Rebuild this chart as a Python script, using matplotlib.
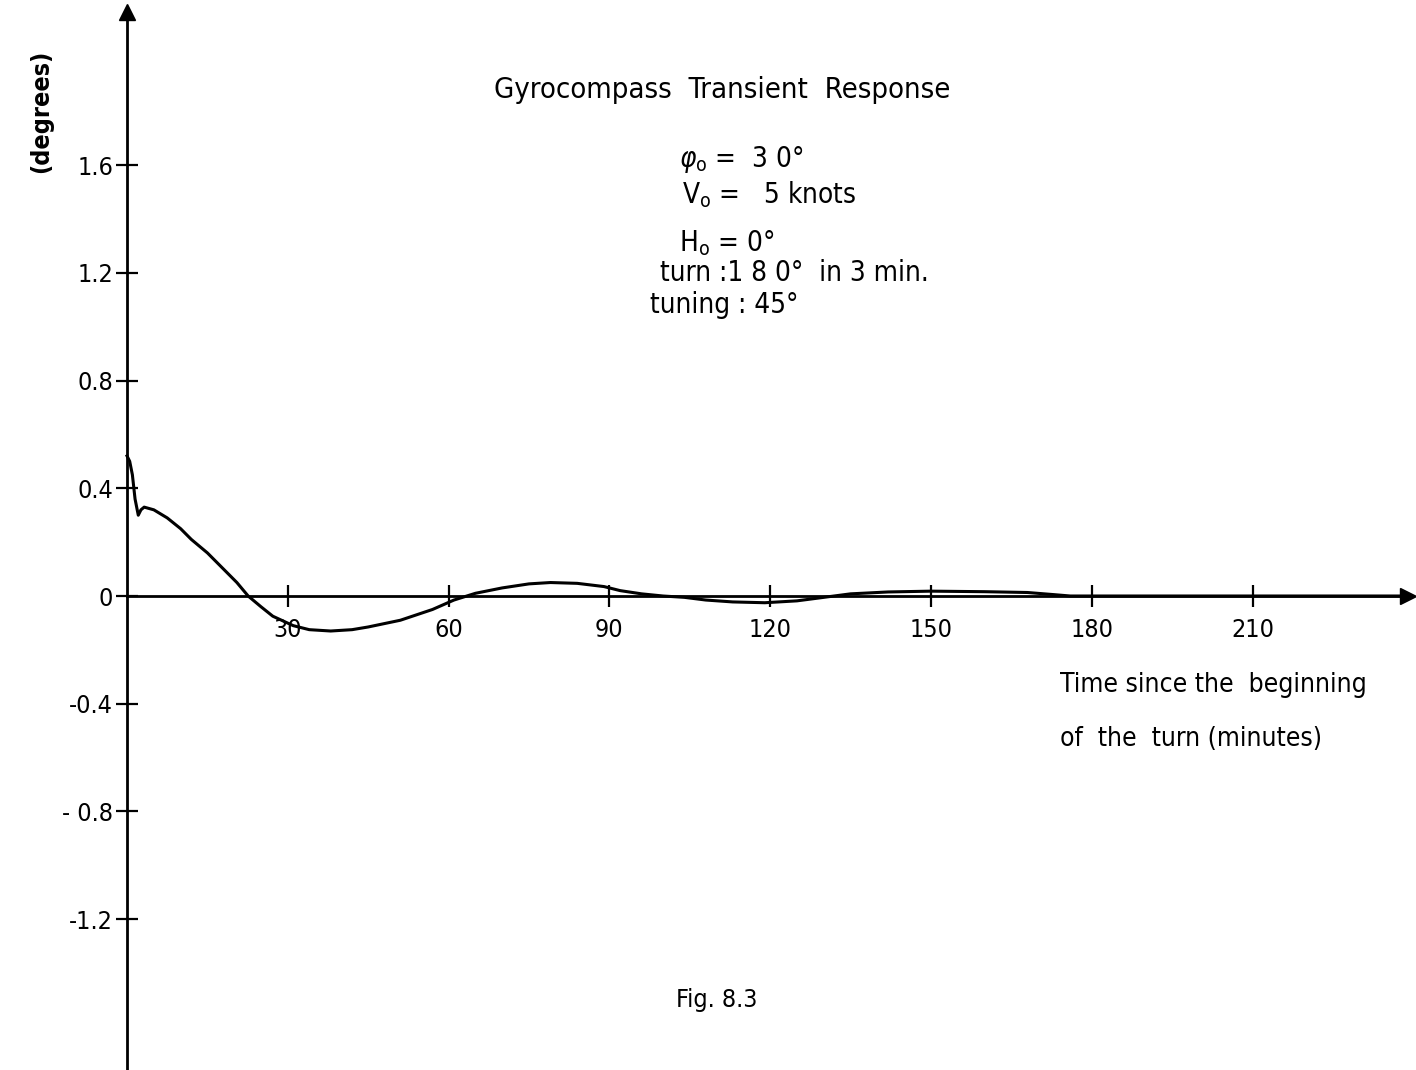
import numpy as np
import matplotlib.pyplot as plt

# curve (minutes, degrees)
t_min = [0, 0.5, 1, 1.5, 2.1, 2.6, 3.2, 5, 7.5, 10, 12, 15, 18, 20.5, 22.6, 25, 27.2,
         31, 34, 38, 42, 45, 51, 57, 61, 65, 70, 75, 79, 84, 89, 92, 96, 100, 104,
         108, 113, 119, 125, 130, 135, 142, 150, 160, 168, 173, 176, 200, 239]
err_deg = [0.52, 0.50, 0.45, 0.36, 0.30, 0.32, 0.33, 0.32, 0.29, 0.25, 0.21, 0.16,
           0.10, 0.05, 0.0, -0.04, -0.075, -0.11, -0.125, -0.13, -0.125, -0.115,
           -0.09, -0.05, -0.015, 0.01, 0.03, 0.045, 0.05, 0.047, 0.035, 0.02, 0.008,
           0.0, -0.005, -0.015, -0.022, -0.025, -0.018, -0.005, 0.008, 0.015, 0.018,
           0.016, 0.013, 0.005, 0.0, 0.0, 0.0]

xticks = [30, 60, 90, 120, 150, 180, 210]
yticks = [1.6, 1.2, 0.8, 0.4, 0, -0.4, -0.8, -1.2]
ylabels = ['1.6', '1.2', '0.8', '0.4', '0', '-0.4', '- 0.8', '-1.2']

title = 'Gyrocompass  Transient  Response'
params = [r'$\varphi_\mathrm{o}$ =  3 0°', r'V$_\mathrm{o}$ =   5 knots',
          r'H$_\mathrm{o}$ = 0°', 'turn :1 8 0°  in 3 min.', 'tuning : 45°']
fig_caption = 'Fig. 8.3'

# narrow face, closest to the typed lettering of the scan
plt.rcParams['font.family'] = ['DejaVu Sans']
plt.rcParams['font.stretch'] = 'condensed'

fig = plt.figure(figsize=(14.16, 10.70), dpi=100)
ax = fig.add_axes([0, 0, 1, 1])
ax.set_xlim(-23.7, 240.5)
ax.set_ylim(-1.76, 2.213)

ax.plot(t_min, err_deg, color='black', lw=2.2)

#axes through the origin
for s in ['top', 'right']:
    ax.spines[s].set_visible(False)
ax.spines['left'].set_position(('data', 0))
ax.spines['bottom'].set_position(('data', 0))
ax.spines['left'].set_bounds(-1.76, 2.17)
ax.spines['bottom'].set_bounds(0, 239)
ax.spines['left'].set_linewidth(2)
ax.spines['bottom'].set_linewidth(2)
ax.plot(0, 2.17, marker='^', color='black', ms=12, clip_on=False)
ax.plot(239, 0, marker='>', color='black', ms=12, clip_on=False)

ax.set_xticks(xticks)
ax.set_xticklabels([str(x) for x in xticks])
ax.set_yticks(yticks)
ax.set_yticklabels(ylabels)
ax.tick_params(direction='inout', length=16, width=1.6, labelsize=18, pad=8)
ax.tick_params(axis='y', pad=2)

ax.text(-16, 1.80, '(degrees)', rotation=90, ha='center', va='center', fontsize=18,
        fontweight='bold')

ax.text(111, 1.88, title, ha='center', va='center', fontsize=21)
px = [103, 103.5, 103, 99.5, 97.5]
py = [1.62, 1.49, 1.31, 1.20, 1.08]
for x, y, s in zip(px, py, params):
    ax.text(x, y, s, ha='left', va='center', fontsize=20)

ax.text(174, -0.33, 'Time since the  beginning', ha='left', va='center', fontsize=19)
ax.text(174, -0.53, 'of  the  turn (minutes)', ha='left', va='center', fontsize=19)
ax.text(110, -1.50, fig_caption, ha='center', va='center', fontsize=18)

plt.savefig('out.png', dpi=100)
